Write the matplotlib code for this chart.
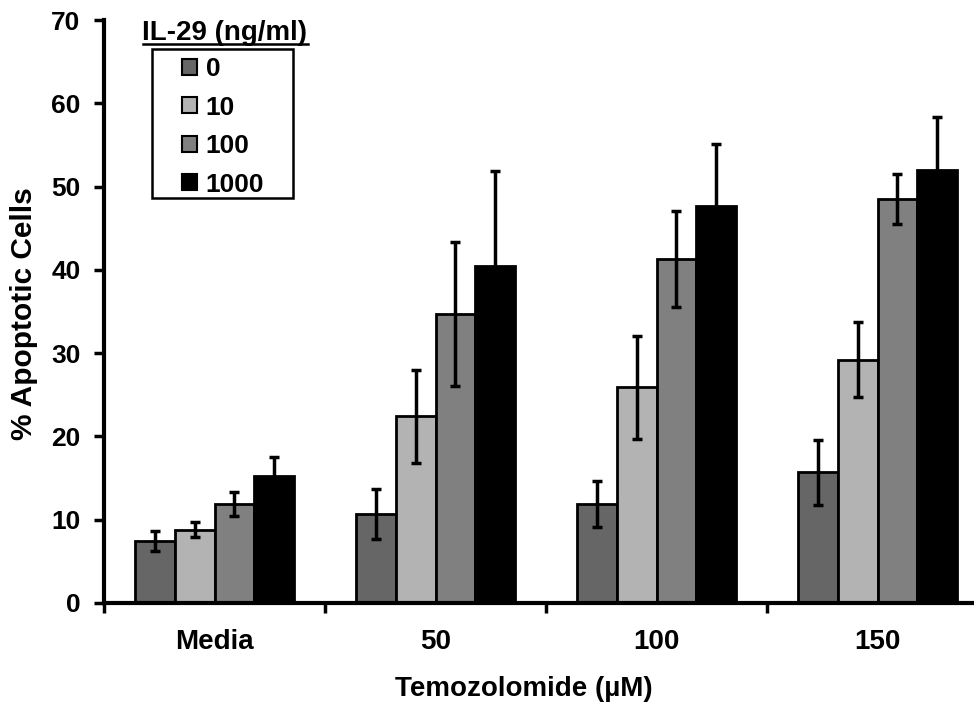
import numpy as np
import matplotlib
matplotlib.use("Agg")
import matplotlib.pyplot as plt
from matplotlib.lines import Line2D
from matplotlib.patches import Rectangle, Patch

plt.rcParams['font.family'] = ['Liberation Sans', 'DejaVu Sans']
plt.rcParams['font.weight'] = 'bold'

# datos
grupos = ["Media", "50", "100", "150"]
dosis = ["0", "10", "100", "1000"]
colores = ["#666666", "#b3b3b3", "#808080", "#000000"]
media = [
    [7.4, 10.7, 11.9, 15.7],
    [8.8, 22.4, 25.9, 29.2],
    [11.9, 34.7, 41.3, 48.5],
    [15.3, 40.5, 47.7, 52.0],
]
error = [
    [1.2, 3.0, 2.8, 3.9],
    [0.9, 5.6, 6.2, 4.5],
    [1.4, 8.6, 5.8, 3.0],
    [2.2, 11.4, 7.4, 6.3],
]

W, H = 974, 717
fig = plt.figure(figsize=(W/100, H/100), dpi=100)
ax = fig.add_axes([104/W, 1 - 603/H, 1 - 104/W, (603 - 20)/H])

x = np.arange(len(grupos))
w = 0.18
for i in range(len(dosis)):
    pos = x + (i - 1.5) * w
    ax.bar(pos, media[i], w, color=colores[i], edgecolor="black", linewidth=2,
           zorder=2)
    ax.errorbar(pos, media[i], yerr=error[i], fmt="none", ecolor="black",
                elinewidth=2.5, capsize=3.5, capthick=2.5, zorder=3)

ax.set_xlim(-0.5, -0.5 + 870/221)
ax.set_ylim(0, 70)
ax.set_yticks(range(0, 71, 10))
ax.set_xticks(x - 0.5)
ax.set_xticklabels([])
for xi, g in zip(x, grupos):
    ax.text(xi, -(642 - 603)/583, g, transform=ax.get_xaxis_transform(),
            ha="center", va="center", fontsize=20, fontweight="bold")
ax.tick_params(axis="both", direction="out", length=7, width=2.5, labelsize=19)
ax.tick_params(axis="y", pad=10)
for s in ["top", "right"]:
    ax.spines[s].set_visible(False)
for s in ["left", "bottom"]:
    ax.spines[s].set_linewidth(3)

fig.text(24/W, 1 - 314/H, "% Apoptotic Cells", rotation=90, ha="center",
         va="center", fontsize=21.5, fontweight="bold")
fig.text(524/W, 1 - 689/H, "Temozolomide (\u00b5M)", ha="center", va="center",
         fontsize=20, fontweight="bold")

# leyenda (marco dibujado aparte)
handles = [Patch(facecolor=c, edgecolor="black", linewidth=1.5) for c in colores]
leg = ax.legend(handles, dosis, loc="upper left", bbox_to_anchor=(182/W, 1 - 57/H),
                bbox_transform=fig.transFigure, fontsize=19, frameon=False,
                handlelength=0.55, handleheight=0.55, handletextpad=0.35,
                labelspacing=0.55, borderpad=0, borderaxespad=0)
fig.add_artist(Rectangle((152/W, 1 - 198/H), (293 - 152)/W, (198 - 49)/H,
                         transform=fig.transFigure, fill=False,
                         edgecolor="black", lw=1.8))

titulo = fig.text(225/W, 1 - 33/H, "IL-29 (ng/ml)", ha="center", va="center",
                  fontsize=20, fontweight="bold")
fig.canvas.draw()
bb = titulo.get_window_extent().transformed(fig.transFigure.inverted())
fig.add_artist(Line2D([bb.x0, bb.x1], [1 - 43.5/H, 1 - 43.5/H],
                      transform=fig.transFigure, color="black", lw=1.8))

fig.savefig("out.png", dpi=100)
